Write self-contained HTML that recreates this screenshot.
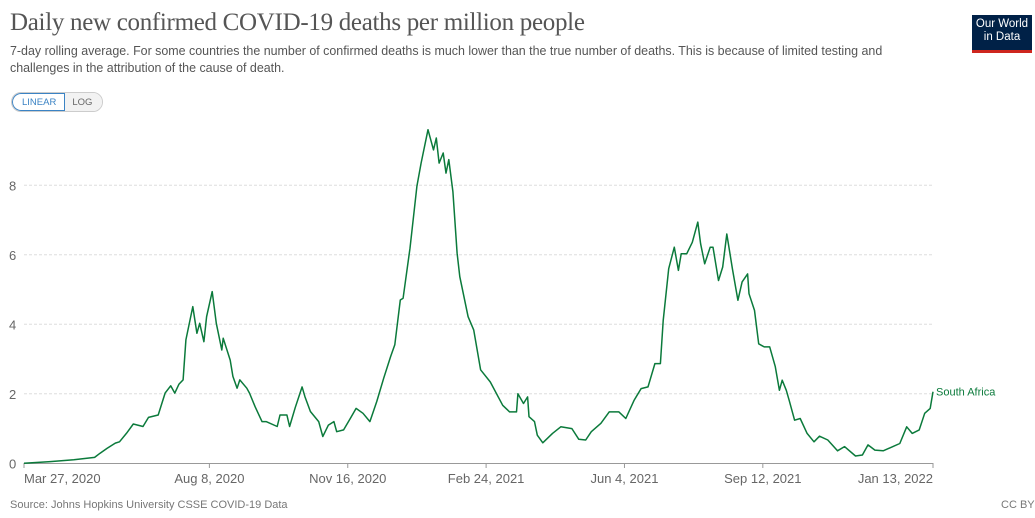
<!DOCTYPE html>
<html><head><meta charset="utf-8"><style>
body{margin:0;width:1035px;height:518px;background:#fff;font-family:"Liberation Sans",sans-serif;overflow:hidden;position:relative}
.t{position:absolute;white-space:nowrap}
</style></head><body>
<div class="t" style="left:10px;top:9px;font-family:'Liberation Serif',serif;font-size:25px;color:#555;letter-spacing:-0.3px">Daily new confirmed COVID-19 deaths per million people</div>
<div class="t" style="left:10px;top:43px;font-size:12.45px;line-height:17px;color:#555">7-day rolling average. For some countries the number of confirmed deaths is much lower than the true number of deaths. This is because of limited testing and<br>challenges in the attribution of the cause of death.</div>
<div style="position:absolute;left:972px;top:15px;width:60px;height:38px;background:#002147;color:#fff;font-size:11.5px;line-height:13px;text-align:center;padding-top:3px;box-sizing:border-box;border-bottom:3px solid #ce261e">Our World<br>in Data</div>
<div style="position:absolute;left:11px;top:92px;height:18px;border:1px solid #ccc;border-radius:10px;display:flex;font-size:9.5px;overflow:hidden">
<div style="border:1px solid #3b83c4;border-radius:10px 0 0 10px;color:#3b83c4;padding:3px 8px 0 9px">LINEAR</div>
<div style="color:#666;padding:4px 10px 0 7px;background:#f2f2f2">LOG</div></div>
<svg width="1035" height="518" style="position:absolute;left:0;top:0" id="svg"></svg>
<div class="t" style="left:10px;top:499px;font-size:11px;color:#777">Source: Johns Hopkins University CSSE COVID-19 Data</div>
<div class="t" style="left:1001px;top:499px;font-size:11px;color:#777">CC BY</div>
<script>
const days=[0,19,36,51,55,60,66,69,74,79,86,90,97,102,106,109,112,115,117,122,125,127,130,132,136,139,143,144,149,151,154,156,161,163,167,172,175,183,185,190,192,196,201,203,207,213,216,220,224,226,231,236,240,245,250,255,260,265,268,272,274,279,284,287,292,296,298,300,303,305,307,310,313,315,321,325,330,337,346,351,356,357,361,364,365,369,371,375,382,388,396,401,406,410,417,423,430,435,441,446,451,456,460,462,466,470,473,475,479,483,487,489,492,496,498,502,505,508,512,516,519,523,524,528,531,535,539,543,546,548,551,553,557,561,566,571,575,581,588,593,601,606,610,615,621,628,633,638,642,647,651,655,657];
const vals=[0,0.05,0.1,0.17,0.29,0.43,0.58,0.62,0.86,1.13,1.06,1.32,1.39,2.02,2.23,2.02,2.28,2.4,3.55,4.51,3.74,4.03,3.5,4.22,4.94,4.03,3.26,3.6,2.97,2.5,2.16,2.4,2.16,2.02,1.63,1.2,1.2,1.06,1.39,1.39,1.06,1.6,2.2,1.92,1.49,1.2,0.77,1.1,1.2,0.91,0.96,1.3,1.58,1.44,1.2,1.78,2.45,3.07,3.41,4.7,4.75,6.19,7.97,8.64,9.6,9.02,9.36,8.64,8.93,8.35,8.74,7.82,6.05,5.37,4.22,3.84,2.69,2.34,1.67,1.48,1.48,2.0,1.72,1.91,1.34,1.2,0.81,0.59,0.86,1.05,1.0,0.69,0.67,0.91,1.15,1.48,1.48,1.29,1.82,2.15,2.2,2.87,2.87,4.11,5.6,6.22,5.55,6.03,6.03,6.36,6.94,6.32,5.74,6.22,6.22,5.26,5.65,6.6,5.6,4.69,5.22,5.45,4.88,4.4,3.44,3.35,3.35,2.78,2.1,2.39,2.1,1.82,1.24,1.29,0.86,0.62,0.78,0.67,0.36,0.48,0.21,0.24,0.53,0.38,0.36,0.48,0.57,1.05,0.86,0.96,1.44,1.58,2.06];
const yTicks=[0,2,4,6,8];
const xTickDays=[0,134,234,334,434,534,657];
const xTickLabels=["Mar 27, 2020","Aug 8, 2020","Nov 16, 2020","Feb 24, 2021","Jun 4, 2021","Sep 12, 2021","Jan 13, 2022"];
const svg=document.getElementById('svg'),NS='http://www.w3.org/2000/svg';
const X=d=>24+d*909/657, Y=v=>463.3-v*34.75;
function mk(t,a){const e=document.createElementNS(NS,t);for(const k in a)e.setAttribute(k,a[k]);svg.appendChild(e);return e;}
yTicks.forEach(v=>{
 if(v>0){const g=mk('line',{x1:24,x2:933,y1:Y(v),y2:Y(v),stroke:'#ddd','stroke-dasharray':'3,2'});
 
 }
 const t=mk('text',{x:9,y:Y(v)+5,'font-size':13,fill:'#666','font-family':'Liberation Sans'});t.textContent=v;
 
 
});
const ax=mk('line',{x1:24,x2:933,y1:463.5,y2:463.5,stroke:'#999'});


xTickDays.forEach((d,i)=>{
 const tk=mk('line',{x1:X(d),x2:X(d),y1:463,y2:468,stroke:'#999'});
 
 
 const anchor=i==0?'start':(i==xTickDays.length-1?'end':'middle');
 const t=mk('text',{x:i==0?24:X(d),y:483,'font-size':13,fill:'#666','text-anchor':anchor,'font-family':'Liberation Sans'});t.textContent=xTickLabels[i];
 
 
});
const p=mk('path',{d:days.map((d,i)=>(i?'L':'M')+X(d).toFixed(1)+','+Y(vals[i]).toFixed(1)).join(''),fill:'none',stroke:'#0b7a3b','stroke-width':1.5,'stroke-linejoin':'round'});


const lb=mk('text',{x:936,y:Y(vals[vals.length-1])+4,'font-size':11,fill:'#0b7a3b','font-family':'Liberation Sans'});lb.textContent='South Africa';


</script>
</body></html>
